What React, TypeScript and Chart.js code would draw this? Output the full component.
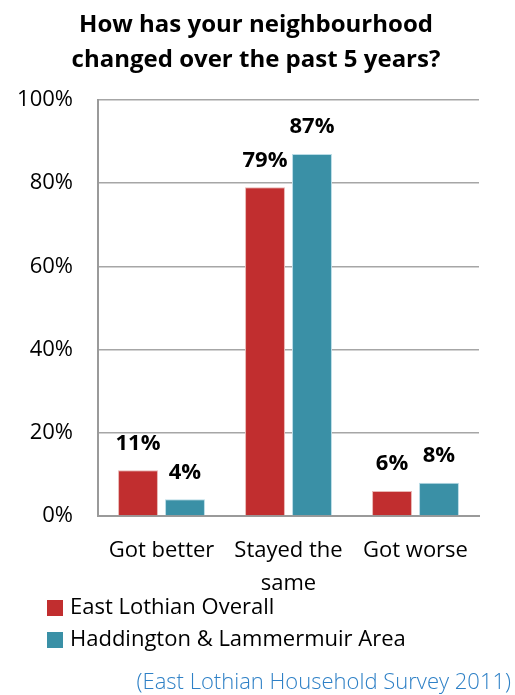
import React, { useEffect, useRef } from "react";
import { Chart, registerables } from "chart.js";

Chart.register(...registerables);

const titleLines = ["How has your neighbourhood", "changed over the past 5 years?"];
const categories: (string | string[])[] = ["Got better", ["Stayed the", "same"], "Got worse"];
const seriesNames = ["East Lothian Overall", "Haddington & Lammermuir Area"];
const eastLothian = [11, 79, 6];
const haddington = [4, 87, 8];
const yTicks = [0, 20, 40, 60, 80, 100];
const sourceNote = "(East Lothian Household Survey 2011)";

const RED = "#C12E2F";
const TEAL = "#3A90A6";
const FONT = "'Open Sans', Lato, sans-serif";

export default function App() {
  const ref = useRef<HTMLCanvasElement | null>(null);

  useEffect(() => {
    if (!ref.current) return;

    const overlay = {
      id: "overlay",
      afterDatasetsDraw(chart: any) {
        const ctx = chart.ctx;
        ctx.save();
        // title
        ctx.font = `bold 24px ${FONT}`;
        ctx.fillStyle = "#000";
        ctx.textAlign = "center";
        ctx.textBaseline = "middle";
        titleLines.forEach((t, i) => ctx.fillText(t, 256, 25 + i * 35));
        // data labels
        ctx.font = `bold 22px ${FONT}`;
        chart.data.datasets.forEach((ds: any, di: number) => {
          const meta = chart.getDatasetMeta(di);
          meta.data.forEach((bar: any, i: number) => {
            ctx.fillText(`${ds.data[i]}%`, bar.x, bar.y - 27);
          });
        });
        // legend
        ctx.textAlign = "left";
        ctx.font = `22px ${FONT}`;
        chart.data.datasets.forEach((ds: any, di: number) => {
          const y = 608 + di * 32;
          ctx.fillStyle = ds.backgroundColor;
          ctx.fillRect(47, y - 8, 16, 16);
          ctx.fillStyle = "#000";
          ctx.fillText(ds.label, 70, y);
        });
        // source
        ctx.font = `300 22px ${FONT}`;
        ctx.fillStyle = "#2E80C6";
        ctx.textAlign = "right";
        ctx.fillText(sourceNote, 511, 683);
        ctx.restore();
      },
    };

    const chart = new Chart(ref.current, {
      type: "bar",
      data: {
        labels: categories,
        datasets: [
          {
            label: seriesNames[0],
            data: eastLothian,
            backgroundColor: RED,
            borderColor: "#E9B7B4",
            borderWidth: 1,
            categoryPercentage: 0.74,
            barPercentage: 0.85,
          },
          {
            label: seriesNames[1],
            data: haddington,
            backgroundColor: TEAL,
            borderColor: "#B9DCE6",
            borderWidth: 1,
            categoryPercentage: 0.74,
            barPercentage: 0.85,
          },
        ],
      },
      options: {
        animation: false,
        responsive: true,
        maintainAspectRatio: false,
        layout: { padding: { top: 100, right: 36, bottom: 99, left: 0 } },
        plugins: {
          legend: { display: false },
          tooltip: { enabled: false },
          title: { display: false },
        },
        scales: {
          x: {
            grid: { display: false, drawTicks: false },
            border: { display: true, color: "#9A9A9A", width: 2 },
            ticks: {
              color: "#000",
              font: { family: FONT, size: 22, lineHeight: 1.5 },
              padding: 18,
              maxRotation: 0,
              autoSkip: false,
            },
            afterFit(scale: any) {
              scale.height = 80;
            },
          },
          y: {
            min: 0,
            max: 100,
            afterBuildTicks(scale: any) {
              scale.ticks = yTicks.map((v) => ({ value: v }));
            },
            grid: { color: "#A6A6A6", lineWidth: 1.5, drawTicks: false },
            border: { display: true, color: "#9A9A9A", width: 2 },
            ticks: {
              color: "#000",
              font: { family: FONT, size: 22 },
              padding: 25,
              callback: (v: any) => `${v}%`,
            },
            afterFit(scale: any) {
              scale.width = 98;
            },
          },
        },
      },
      plugins: [overlay],
    });
    return () => chart.destroy();
  }, []);

  return (
    <div style={{ position: "absolute", left: 0, top: 0, width: 515, height: 695 }}>
      <canvas ref={ref} />
    </div>
  );
}
